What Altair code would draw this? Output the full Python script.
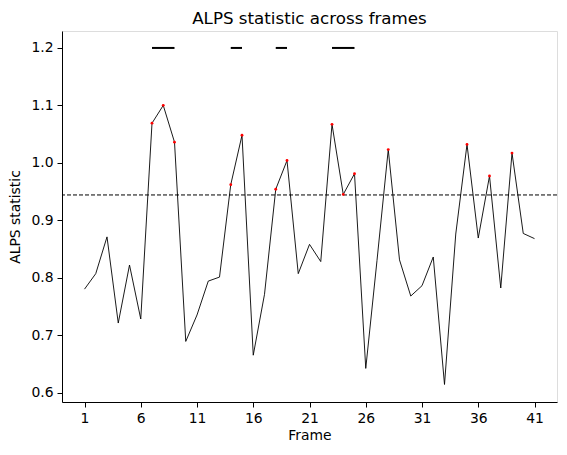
import altair as alt
import pandas as pd

frames = list(range(1, 42))
values = [0.780, 0.807, 0.871, 0.721, 0.822, 0.728, 1.069, 1.100, 1.036, 0.689,
          0.735, 0.794, 0.801, 0.962, 1.048, 0.665, 0.771, 0.954, 1.004, 0.807,
          0.858, 0.828, 1.067, 0.945, 0.981, 0.642, 0.830, 1.023, 0.831, 0.768,
          0.786, 0.836, 0.614, 0.876, 1.032, 0.869, 0.977, 0.782, 1.017, 0.877,
          0.868]
threshold = 0.944
seg_start = [7, 14, 18, 23]
seg_end = [9, 15, 19, 25]
seg_level = [1.2, 1.2, 1.2, 1.2]

df = pd.DataFrame({"Frame": frames, "ALPS": values})
df["above"] = df["ALPS"] >= threshold
seg_df = pd.DataFrame({"start": seg_start, "end": seg_end, "level": seg_level})
thr_df = pd.DataFrame({"thr": [threshold]})

FONT = "DejaVu Sans"
xscale = alt.Scale(domain=[-1, 43], nice=False, zero=False)
yscale = alt.Scale(domain=[0.5835, 1.2295], nice=False, zero=False)

xaxis = alt.Axis(title="Frame", values=list(range(1, 42, 5)), grid=False,
                 labelFontSize=13.9, titleFontSize=13.9, titleFontWeight="normal",
                 labelFont=FONT, titleFont=FONT, labelColor="black", titleColor="black",
                 domainColor="black", tickColor="black", tickSize=5, labelPadding=4,
                 titlePadding=4, labelFlush=False)
yaxis = alt.Axis(title="ALPS statistic", values=[0.6, 0.7, 0.8, 0.9, 1.0, 1.1, 1.2],
                 format=".1f", grid=False,
                 labelFontSize=13.9, titleFontSize=13.9, titleFontWeight="normal",
                 labelFont=FONT, titleFont=FONT, labelColor="black", titleColor="black",
                 domainColor="black", tickColor="black", tickSize=5, labelPadding=4,
                 titlePadding=8, labelFlush=False)

line = alt.Chart(df).mark_line(color="black", strokeWidth=0.9).encode(
    x=alt.X("Frame:Q", scale=xscale, axis=xaxis),
    y=alt.Y("ALPS:Q", scale=yscale, axis=yaxis),
)

thr = alt.Chart(thr_df).mark_rule(color="black", strokeWidth=1, strokeDash=[4, 2]).encode(
    y=alt.Y("thr:Q", scale=yscale)
)

pts = alt.Chart(df).transform_filter(alt.datum.above).mark_point(
    filled=True, color="red", size=8, opacity=1, shape="circle"
).encode(
    x=alt.X("Frame:Q", scale=xscale),
    y=alt.Y("ALPS:Q", scale=yscale),
)

segs = alt.Chart(seg_df).mark_rule(color="black", strokeWidth=2).encode(
    x=alt.X("start:Q", scale=xscale),
    x2="end:Q",
    y=alt.Y("level:Q", scale=yscale),
)

chart = alt.layer(line, thr, pts, segs).properties(
    width=495, height=371,
    title=alt.TitleParams("ALPS statistic across frames", font=FONT, fontSize=16.7,
                          fontWeight="normal", color="black", offset=3),
    autosize=alt.AutoSizeParams(type="none"),
    padding={"left": 54, "top": 23, "right": 2, "bottom": 45},
).configure_view(stroke="black", strokeWidth=1.1).configure(background="white")

chart.save("out.html", embed_options={"renderer": "svg", "actions": False})
